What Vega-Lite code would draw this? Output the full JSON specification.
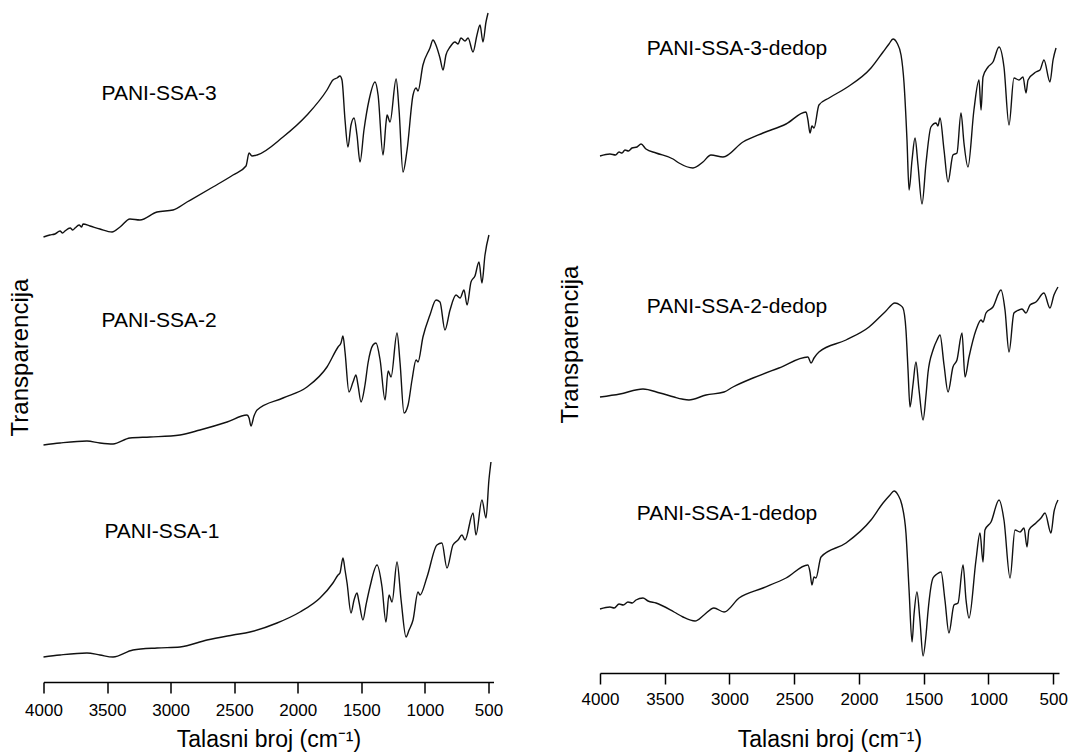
{
  "$schema": "https://vega.github.io/schema/vega-lite/v6.json",
  "background": "white",
  "padding": {"left": 8.5, "top": 0, "right": 5, "bottom": 5},
  "bounds": "flush",
  "spacing": 106.5,
  "config": {"view": {"stroke": null}, "font": "Liberation Sans"},
  "datasets": {
    "left": [
      {"sample":"PANI-SSA-3","wn":4000,"T":445},{"sample":"PANI-SSA-3","wn":3950,"T":447},{"sample":"PANI-SSA-3","wn":3910,"T":448},{"sample":"PANI-SSA-3","wn":3870,"T":451},{"sample":"PANI-SSA-3","wn":3850,"T":449},{"sample":"PANI-SSA-3","wn":3831,"T":451},{"sample":"PANI-SSA-3","wn":3790,"T":454},{"sample":"PANI-SSA-3","wn":3770,"T":452},{"sample":"PANI-SSA-3","wn":3752,"T":454},{"sample":"PANI-SSA-3","wn":3720,"T":457},{"sample":"PANI-SSA-3","wn":3700,"T":455},{"sample":"PANI-SSA-3","wn":3689,"T":458},{"sample":"PANI-SSA-3","wn":3634,"T":456},{"sample":"PANI-SSA-3","wn":3556,"T":453},{"sample":"PANI-SSA-3","wn":3461,"T":450},{"sample":"PANI-SSA-3","wn":3398,"T":455},{"sample":"PANI-SSA-3","wn":3320,"T":463},{"sample":"PANI-SSA-3","wn":3241,"T":462},{"sample":"PANI-SSA-3","wn":3107,"T":470},{"sample":"PANI-SSA-3","wn":2981,"T":472},{"sample":"PANI-SSA-3","wn":2871,"T":480},{"sample":"PANI-SSA-3","wn":2667,"T":495},{"sample":"PANI-SSA-3","wn":2509,"T":507},{"sample":"PANI-SSA-3","wn":2407,"T":516},{"sample":"PANI-SSA-3","wn":2383,"T":529},{"sample":"PANI-SSA-3","wn":2360,"T":526},{"sample":"PANI-SSA-3","wn":2320,"T":527},{"sample":"PANI-SSA-3","wn":2116,"T":545},{"sample":"PANI-SSA-3","wn":1927,"T":567},{"sample":"PANI-SSA-3","wn":1770,"T":592},{"sample":"PANI-SSA-3","wn":1723,"T":602},{"sample":"PANI-SSA-3","wn":1691,"T":604},{"sample":"PANI-SSA-3","wn":1668,"T":606},{"sample":"PANI-SSA-3","wn":1652,"T":602},{"sample":"PANI-SSA-3","wn":1628,"T":562},{"sample":"PANI-SSA-3","wn":1605,"T":535},{"sample":"PANI-SSA-3","wn":1581,"T":557},{"sample":"PANI-SSA-3","wn":1557,"T":564},{"sample":"PANI-SSA-3","wn":1534,"T":547},{"sample":"PANI-SSA-3","wn":1510,"T":520},{"sample":"PANI-SSA-3","wn":1479,"T":552},{"sample":"PANI-SSA-3","wn":1439,"T":582},{"sample":"PANI-SSA-3","wn":1392,"T":600},{"sample":"PANI-SSA-3","wn":1368,"T":587},{"sample":"PANI-SSA-3","wn":1329,"T":527},{"sample":"PANI-SSA-3","wn":1305,"T":560},{"sample":"PANI-SSA-3","wn":1297,"T":567},{"sample":"PANI-SSA-3","wn":1274,"T":560},{"sample":"PANI-SSA-3","wn":1226,"T":603},{"sample":"PANI-SSA-3","wn":1203,"T":572},{"sample":"PANI-SSA-3","wn":1172,"T":510},{"sample":"PANI-SSA-3","wn":1140,"T":532},{"sample":"PANI-SSA-3","wn":1093,"T":587},{"sample":"PANI-SSA-3","wn":1069,"T":594},{"sample":"PANI-SSA-3","wn":1054,"T":591},{"sample":"PANI-SSA-3","wn":1015,"T":617},{"sample":"PANI-SSA-3","wn":960,"T":634},{"sample":"PANI-SSA-3","wn":936,"T":642},{"sample":"PANI-SSA-3","wn":913,"T":637},{"sample":"PANI-SSA-3","wn":881,"T":624},{"sample":"PANI-SSA-3","wn":857,"T":612},{"sample":"PANI-SSA-3","wn":834,"T":627},{"sample":"PANI-SSA-3","wn":802,"T":635},{"sample":"PANI-SSA-3","wn":763,"T":640},{"sample":"PANI-SSA-3","wn":739,"T":638},{"sample":"PANI-SSA-3","wn":716,"T":644},{"sample":"PANI-SSA-3","wn":684,"T":641},{"sample":"PANI-SSA-3","wn":660,"T":644},{"sample":"PANI-SSA-3","wn":621,"T":630},{"sample":"PANI-SSA-3","wn":590,"T":647},{"sample":"PANI-SSA-3","wn":566,"T":657},{"sample":"PANI-SSA-3","wn":543,"T":640},{"sample":"PANI-SSA-3","wn":519,"T":660},{"sample":"PANI-SSA-3","wn":503,"T":669},
      {"sample":"PANI-SSA-2","wn":4000,"T":237},{"sample":"PANI-SSA-2","wn":3870,"T":239},{"sample":"PANI-SSA-2","wn":3658,"T":241},{"sample":"PANI-SSA-2","wn":3556,"T":239},{"sample":"PANI-SSA-2","wn":3453,"T":238},{"sample":"PANI-SSA-2","wn":3320,"T":244},{"sample":"PANI-SSA-2","wn":3162,"T":245},{"sample":"PANI-SSA-2","wn":2926,"T":247},{"sample":"PANI-SSA-2","wn":2769,"T":252},{"sample":"PANI-SSA-2","wn":2556,"T":260},{"sample":"PANI-SSA-2","wn":2399,"T":267},{"sample":"PANI-SSA-2","wn":2383,"T":264},{"sample":"PANI-SSA-2","wn":2368,"T":256},{"sample":"PANI-SSA-2","wn":2344,"T":266},{"sample":"PANI-SSA-2","wn":2320,"T":272},{"sample":"PANI-SSA-2","wn":2116,"T":284},{"sample":"PANI-SSA-2","wn":1927,"T":295},{"sample":"PANI-SSA-2","wn":1770,"T":315},{"sample":"PANI-SSA-2","wn":1683,"T":335},{"sample":"PANI-SSA-2","wn":1660,"T":339},{"sample":"PANI-SSA-2","wn":1644,"T":346},{"sample":"PANI-SSA-2","wn":1628,"T":330},{"sample":"PANI-SSA-2","wn":1597,"T":290},{"sample":"PANI-SSA-2","wn":1565,"T":300},{"sample":"PANI-SSA-2","wn":1542,"T":307},{"sample":"PANI-SSA-2","wn":1526,"T":297},{"sample":"PANI-SSA-2","wn":1502,"T":280},{"sample":"PANI-SSA-2","wn":1471,"T":297},{"sample":"PANI-SSA-2","wn":1447,"T":319},{"sample":"PANI-SSA-2","wn":1408,"T":337},{"sample":"PANI-SSA-2","wn":1384,"T":339},{"sample":"PANI-SSA-2","wn":1352,"T":322},{"sample":"PANI-SSA-2","wn":1313,"T":282},{"sample":"PANI-SSA-2","wn":1289,"T":311},{"sample":"PANI-SSA-2","wn":1266,"T":305},{"sample":"PANI-SSA-2","wn":1219,"T":349},{"sample":"PANI-SSA-2","wn":1195,"T":319},{"sample":"PANI-SSA-2","wn":1164,"T":269},{"sample":"PANI-SSA-2","wn":1132,"T":277},{"sample":"PANI-SSA-2","wn":1101,"T":302},{"sample":"PANI-SSA-2","wn":1069,"T":322},{"sample":"PANI-SSA-2","wn":1054,"T":320},{"sample":"PANI-SSA-2","wn":1015,"T":345},{"sample":"PANI-SSA-2","wn":960,"T":367},{"sample":"PANI-SSA-2","wn":912,"T":382},{"sample":"PANI-SSA-2","wn":881,"T":380},{"sample":"PANI-SSA-2","wn":842,"T":352},{"sample":"PANI-SSA-2","wn":802,"T":372},{"sample":"PANI-SSA-2","wn":755,"T":387},{"sample":"PANI-SSA-2","wn":723,"T":384},{"sample":"PANI-SSA-2","wn":692,"T":392},{"sample":"PANI-SSA-2","wn":668,"T":377},{"sample":"PANI-SSA-2","wn":637,"T":400},{"sample":"PANI-SSA-2","wn":606,"T":406},{"sample":"PANI-SSA-2","wn":574,"T":420},{"sample":"PANI-SSA-2","wn":551,"T":399},{"sample":"PANI-SSA-2","wn":527,"T":427},{"sample":"PANI-SSA-2","wn":496,"T":447},
      {"sample":"PANI-SSA-1","wn":4000,"T":25},{"sample":"PANI-SSA-1","wn":3870,"T":27},{"sample":"PANI-SSA-1","wn":3658,"T":29},{"sample":"PANI-SSA-1","wn":3556,"T":27},{"sample":"PANI-SSA-1","wn":3453,"T":25},{"sample":"PANI-SSA-1","wn":3296,"T":32},{"sample":"PANI-SSA-1","wn":3107,"T":34},{"sample":"PANI-SSA-1","wn":2926,"T":35},{"sample":"PANI-SSA-1","wn":2714,"T":42},{"sample":"PANI-SSA-1","wn":2509,"T":47},{"sample":"PANI-SSA-1","wn":2376,"T":50},{"sample":"PANI-SSA-1","wn":2163,"T":59},{"sample":"PANI-SSA-1","wn":1982,"T":70},{"sample":"PANI-SSA-1","wn":1825,"T":84},{"sample":"PANI-SSA-1","wn":1723,"T":99},{"sample":"PANI-SSA-1","wn":1683,"T":107},{"sample":"PANI-SSA-1","wn":1668,"T":109},{"sample":"PANI-SSA-1","wn":1644,"T":124},{"sample":"PANI-SSA-1","wn":1628,"T":112},{"sample":"PANI-SSA-1","wn":1612,"T":99},{"sample":"PANI-SSA-1","wn":1581,"T":69},{"sample":"PANI-SSA-1","wn":1557,"T":82},{"sample":"PANI-SSA-1","wn":1534,"T":89},{"sample":"PANI-SSA-1","wn":1518,"T":80},{"sample":"PANI-SSA-1","wn":1487,"T":62},{"sample":"PANI-SSA-1","wn":1463,"T":77},{"sample":"PANI-SSA-1","wn":1432,"T":95},{"sample":"PANI-SSA-1","wn":1376,"T":117},{"sample":"PANI-SSA-1","wn":1337,"T":95},{"sample":"PANI-SSA-1","wn":1306,"T":60},{"sample":"PANI-SSA-1","wn":1282,"T":87},{"sample":"PANI-SSA-1","wn":1258,"T":80},{"sample":"PANI-SSA-1","wn":1219,"T":120},{"sample":"PANI-SSA-1","wn":1187,"T":82},{"sample":"PANI-SSA-1","wn":1148,"T":45},{"sample":"PANI-SSA-1","wn":1124,"T":52},{"sample":"PANI-SSA-1","wn":1093,"T":62},{"sample":"PANI-SSA-1","wn":1054,"T":90},{"sample":"PANI-SSA-1","wn":1038,"T":87},{"sample":"PANI-SSA-1","wn":983,"T":105},{"sample":"PANI-SSA-1","wn":905,"T":137},{"sample":"PANI-SSA-1","wn":866,"T":139},{"sample":"PANI-SSA-1","wn":826,"T":114},{"sample":"PANI-SSA-1","wn":779,"T":137},{"sample":"PANI-SSA-1","wn":739,"T":142},{"sample":"PANI-SSA-1","wn":708,"T":147},{"sample":"PANI-SSA-1","wn":684,"T":142},{"sample":"PANI-SSA-1","wn":621,"T":169},{"sample":"PANI-SSA-1","wn":598,"T":147},{"sample":"PANI-SSA-1","wn":551,"T":182},{"sample":"PANI-SSA-1","wn":519,"T":164},{"sample":"PANI-SSA-1","wn":496,"T":202},{"sample":"PANI-SSA-1","wn":480,"T":220}
    ],
    "right": [
      {"sample":"PANI-SSA-3-dedop","wn":4000,"T":517},{"sample":"PANI-SSA-3-dedop","wn":3923,"T":519},{"sample":"PANI-SSA-3-dedop","wn":3880,"T":518},{"sample":"PANI-SSA-3-dedop","wn":3853,"T":521},{"sample":"PANI-SSA-3-dedop","wn":3830,"T":520},{"sample":"PANI-SSA-3-dedop","wn":3807,"T":523},{"sample":"PANI-SSA-3-dedop","wn":3780,"T":522},{"sample":"PANI-SSA-3-dedop","wn":3753,"T":525},{"sample":"PANI-SSA-3-dedop","wn":3714,"T":526},{"sample":"PANI-SSA-3-dedop","wn":3683,"T":529},{"sample":"PANI-SSA-3-dedop","wn":3645,"T":524},{"sample":"PANI-SSA-3-dedop","wn":3567,"T":520},{"sample":"PANI-SSA-3-dedop","wn":3436,"T":514},{"sample":"PANI-SSA-3-dedop","wn":3390,"T":510},{"sample":"PANI-SSA-3-dedop","wn":3282,"T":505},{"sample":"PANI-SSA-3-dedop","wn":3205,"T":511},{"sample":"PANI-SSA-3-dedop","wn":3143,"T":518},{"sample":"PANI-SSA-3-dedop","wn":3050,"T":516},{"sample":"PANI-SSA-3-dedop","wn":2896,"T":531},{"sample":"PANI-SSA-3-dedop","wn":2741,"T":540},{"sample":"PANI-SSA-3-dedop","wn":2563,"T":549},{"sample":"PANI-SSA-3-dedop","wn":2409,"T":561},{"sample":"PANI-SSA-3-dedop","wn":2394,"T":553},{"sample":"PANI-SSA-3-dedop","wn":2378,"T":540},{"sample":"PANI-SSA-3-dedop","wn":2363,"T":547},{"sample":"PANI-SSA-3-dedop","wn":2347,"T":545},{"sample":"PANI-SSA-3-dedop","wn":2309,"T":568},{"sample":"PANI-SSA-3-dedop","wn":2231,"T":575},{"sample":"PANI-SSA-3-dedop","wn":2100,"T":585},{"sample":"PANI-SSA-3-dedop","wn":1907,"T":605},{"sample":"PANI-SSA-3-dedop","wn":1814,"T":621},{"sample":"PANI-SSA-3-dedop","wn":1768,"T":629},{"sample":"PANI-SSA-3-dedop","wn":1737,"T":634},{"sample":"PANI-SSA-3-dedop","wn":1706,"T":630},{"sample":"PANI-SSA-3-dedop","wn":1675,"T":618},{"sample":"PANI-SSA-3-dedop","wn":1652,"T":590},{"sample":"PANI-SSA-3-dedop","wn":1629,"T":533},{"sample":"PANI-SSA-3-dedop","wn":1613,"T":483},{"sample":"PANI-SSA-3-dedop","wn":1590,"T":513},{"sample":"PANI-SSA-3-dedop","wn":1567,"T":535},{"sample":"PANI-SSA-3-dedop","wn":1544,"T":508},{"sample":"PANI-SSA-3-dedop","wn":1513,"T":469},{"sample":"PANI-SSA-3-dedop","wn":1482,"T":510},{"sample":"PANI-SSA-3-dedop","wn":1444,"T":546},{"sample":"PANI-SSA-3-dedop","wn":1405,"T":550},{"sample":"PANI-SSA-3-dedop","wn":1390,"T":547},{"sample":"PANI-SSA-3-dedop","wn":1374,"T":555},{"sample":"PANI-SSA-3-dedop","wn":1343,"T":523},{"sample":"PANI-SSA-3-dedop","wn":1312,"T":491},{"sample":"PANI-SSA-3-dedop","wn":1274,"T":518},{"sample":"PANI-SSA-3-dedop","wn":1243,"T":520},{"sample":"PANI-SSA-3-dedop","wn":1212,"T":560},{"sample":"PANI-SSA-3-dedop","wn":1189,"T":530},{"sample":"PANI-SSA-3-dedop","wn":1158,"T":506},{"sample":"PANI-SSA-3-dedop","wn":1112,"T":563},{"sample":"PANI-SSA-3-dedop","wn":1073,"T":593},{"sample":"PANI-SSA-3-dedop","wn":1057,"T":563},{"sample":"PANI-SSA-3-dedop","wn":1042,"T":596},{"sample":"PANI-SSA-3-dedop","wn":1003,"T":606},{"sample":"PANI-SSA-3-dedop","wn":965,"T":611},{"sample":"PANI-SSA-3-dedop","wn":918,"T":626},{"sample":"PANI-SSA-3-dedop","wn":880,"T":606},{"sample":"PANI-SSA-3-dedop","wn":841,"T":548},{"sample":"PANI-SSA-3-dedop","wn":803,"T":595},{"sample":"PANI-SSA-3-dedop","wn":764,"T":593},{"sample":"PANI-SSA-3-dedop","wn":733,"T":596},{"sample":"PANI-SSA-3-dedop","wn":710,"T":580},{"sample":"PANI-SSA-3-dedop","wn":694,"T":593},{"sample":"PANI-SSA-3-dedop","wn":633,"T":601},{"sample":"PANI-SSA-3-dedop","wn":602,"T":603},{"sample":"PANI-SSA-3-dedop","wn":571,"T":613},{"sample":"PANI-SSA-3-dedop","wn":525,"T":591},{"sample":"PANI-SSA-3-dedop","wn":501,"T":613},{"sample":"PANI-SSA-3-dedop","wn":478,"T":625},
      {"sample":"PANI-SSA-2-dedop","wn":4000,"T":276},{"sample":"PANI-SSA-2-dedop","wn":3846,"T":279},{"sample":"PANI-SSA-2-dedop","wn":3668,"T":284},{"sample":"PANI-SSA-2-dedop","wn":3537,"T":280},{"sample":"PANI-SSA-2-dedop","wn":3428,"T":276},{"sample":"PANI-SSA-2-dedop","wn":3367,"T":274},{"sample":"PANI-SSA-2-dedop","wn":3313,"T":273},{"sample":"PANI-SSA-2-dedop","wn":3181,"T":278},{"sample":"PANI-SSA-2-dedop","wn":3042,"T":281},{"sample":"PANI-SSA-2-dedop","wn":2973,"T":286},{"sample":"PANI-SSA-2-dedop","wn":2818,"T":295},{"sample":"PANI-SSA-2-dedop","wn":2618,"T":305},{"sample":"PANI-SSA-2-dedop","wn":2394,"T":316},{"sample":"PANI-SSA-2-dedop","wn":2370,"T":310},{"sample":"PANI-SSA-2-dedop","wn":2347,"T":315},{"sample":"PANI-SSA-2-dedop","wn":2309,"T":321},{"sample":"PANI-SSA-2-dedop","wn":2100,"T":333},{"sample":"PANI-SSA-2-dedop","wn":1922,"T":346},{"sample":"PANI-SSA-2-dedop","wn":1799,"T":361},{"sample":"PANI-SSA-2-dedop","wn":1722,"T":370},{"sample":"PANI-SSA-2-dedop","wn":1683,"T":368},{"sample":"PANI-SSA-2-dedop","wn":1660,"T":365},{"sample":"PANI-SSA-2-dedop","wn":1637,"T":343},{"sample":"PANI-SSA-2-dedop","wn":1621,"T":303},{"sample":"PANI-SSA-2-dedop","wn":1606,"T":266},{"sample":"PANI-SSA-2-dedop","wn":1583,"T":288},{"sample":"PANI-SSA-2-dedop","wn":1560,"T":311},{"sample":"PANI-SSA-2-dedop","wn":1536,"T":283},{"sample":"PANI-SSA-2-dedop","wn":1505,"T":253},{"sample":"PANI-SSA-2-dedop","wn":1482,"T":278},{"sample":"PANI-SSA-2-dedop","wn":1467,"T":300},{"sample":"PANI-SSA-2-dedop","wn":1428,"T":323},{"sample":"PANI-SSA-2-dedop","wn":1397,"T":333},{"sample":"PANI-SSA-2-dedop","wn":1374,"T":338},{"sample":"PANI-SSA-2-dedop","wn":1343,"T":308},{"sample":"PANI-SSA-2-dedop","wn":1312,"T":281},{"sample":"PANI-SSA-2-dedop","wn":1274,"T":306},{"sample":"PANI-SSA-2-dedop","wn":1243,"T":313},{"sample":"PANI-SSA-2-dedop","wn":1204,"T":340},{"sample":"PANI-SSA-2-dedop","wn":1181,"T":296},{"sample":"PANI-SSA-2-dedop","wn":1150,"T":316},{"sample":"PANI-SSA-2-dedop","wn":1096,"T":343},{"sample":"PANI-SSA-2-dedop","wn":1057,"T":353},{"sample":"PANI-SSA-2-dedop","wn":1042,"T":351},{"sample":"PANI-SSA-2-dedop","wn":1019,"T":360},{"sample":"PANI-SSA-2-dedop","wn":965,"T":366},{"sample":"PANI-SSA-2-dedop","wn":903,"T":383},{"sample":"PANI-SSA-2-dedop","wn":872,"T":363},{"sample":"PANI-SSA-2-dedop","wn":841,"T":321},{"sample":"PANI-SSA-2-dedop","wn":803,"T":360},{"sample":"PANI-SSA-2-dedop","wn":764,"T":363},{"sample":"PANI-SSA-2-dedop","wn":741,"T":364},{"sample":"PANI-SSA-2-dedop","wn":710,"T":360},{"sample":"PANI-SSA-2-dedop","wn":679,"T":368},{"sample":"PANI-SSA-2-dedop","wn":633,"T":371},{"sample":"PANI-SSA-2-dedop","wn":571,"T":380},{"sample":"PANI-SSA-2-dedop","wn":525,"T":365},{"sample":"PANI-SSA-2-dedop","wn":494,"T":378},{"sample":"PANI-SSA-2-dedop","wn":463,"T":386},
      {"sample":"PANI-SSA-1-dedop","wn":4000,"T":64},{"sample":"PANI-SSA-1-dedop","wn":3923,"T":66},{"sample":"PANI-SSA-1-dedop","wn":3890,"T":65},{"sample":"PANI-SSA-1-dedop","wn":3853,"T":69},{"sample":"PANI-SSA-1-dedop","wn":3820,"T":68},{"sample":"PANI-SSA-1-dedop","wn":3784,"T":71},{"sample":"PANI-SSA-1-dedop","wn":3750,"T":70},{"sample":"PANI-SSA-1-dedop","wn":3722,"T":73},{"sample":"PANI-SSA-1-dedop","wn":3668,"T":75},{"sample":"PANI-SSA-1-dedop","wn":3629,"T":72},{"sample":"PANI-SSA-1-dedop","wn":3567,"T":70},{"sample":"PANI-SSA-1-dedop","wn":3428,"T":61},{"sample":"PANI-SSA-1-dedop","wn":3359,"T":56},{"sample":"PANI-SSA-1-dedop","wn":3266,"T":52},{"sample":"PANI-SSA-1-dedop","wn":3197,"T":58},{"sample":"PANI-SSA-1-dedop","wn":3120,"T":65},{"sample":"PANI-SSA-1-dedop","wn":3042,"T":61},{"sample":"PANI-SSA-1-dedop","wn":2926,"T":75},{"sample":"PANI-SSA-1-dedop","wn":2741,"T":85},{"sample":"PANI-SSA-1-dedop","wn":2563,"T":95},{"sample":"PANI-SSA-1-dedop","wn":2394,"T":108},{"sample":"PANI-SSA-1-dedop","wn":2378,"T":101},{"sample":"PANI-SSA-1-dedop","wn":2363,"T":88},{"sample":"PANI-SSA-1-dedop","wn":2347,"T":96},{"sample":"PANI-SSA-1-dedop","wn":2332,"T":95},{"sample":"PANI-SSA-1-dedop","wn":2293,"T":116},{"sample":"PANI-SSA-1-dedop","wn":2100,"T":130},{"sample":"PANI-SSA-1-dedop","wn":1907,"T":153},{"sample":"PANI-SSA-1-dedop","wn":1814,"T":170},{"sample":"PANI-SSA-1-dedop","wn":1760,"T":178},{"sample":"PANI-SSA-1-dedop","wn":1729,"T":182},{"sample":"PANI-SSA-1-dedop","wn":1698,"T":178},{"sample":"PANI-SSA-1-dedop","wn":1668,"T":168},{"sample":"PANI-SSA-1-dedop","wn":1637,"T":140},{"sample":"PANI-SSA-1-dedop","wn":1613,"T":83},{"sample":"PANI-SSA-1-dedop","wn":1590,"T":31},{"sample":"PANI-SSA-1-dedop","wn":1575,"T":58},{"sample":"PANI-SSA-1-dedop","wn":1552,"T":81},{"sample":"PANI-SSA-1-dedop","wn":1529,"T":53},{"sample":"PANI-SSA-1-dedop","wn":1505,"T":17},{"sample":"PANI-SSA-1-dedop","wn":1482,"T":38},{"sample":"PANI-SSA-1-dedop","wn":1467,"T":61},{"sample":"PANI-SSA-1-dedop","wn":1428,"T":95},{"sample":"PANI-SSA-1-dedop","wn":1397,"T":99},{"sample":"PANI-SSA-1-dedop","wn":1366,"T":101},{"sample":"PANI-SSA-1-dedop","wn":1336,"T":73},{"sample":"PANI-SSA-1-dedop","wn":1305,"T":40},{"sample":"PANI-SSA-1-dedop","wn":1266,"T":68},{"sample":"PANI-SSA-1-dedop","wn":1235,"T":70},{"sample":"PANI-SSA-1-dedop","wn":1196,"T":108},{"sample":"PANI-SSA-1-dedop","wn":1173,"T":73},{"sample":"PANI-SSA-1-dedop","wn":1150,"T":55},{"sample":"PANI-SSA-1-dedop","wn":1096,"T":113},{"sample":"PANI-SSA-1-dedop","wn":1065,"T":140},{"sample":"PANI-SSA-1-dedop","wn":1042,"T":111},{"sample":"PANI-SSA-1-dedop","wn":1027,"T":143},{"sample":"PANI-SSA-1-dedop","wn":980,"T":151},{"sample":"PANI-SSA-1-dedop","wn":918,"T":173},{"sample":"PANI-SSA-1-dedop","wn":880,"T":153},{"sample":"PANI-SSA-1-dedop","wn":833,"T":95},{"sample":"PANI-SSA-1-dedop","wn":795,"T":143},{"sample":"PANI-SSA-1-dedop","wn":756,"T":141},{"sample":"PANI-SSA-1-dedop","wn":725,"T":145},{"sample":"PANI-SSA-1-dedop","wn":702,"T":126},{"sample":"PANI-SSA-1-dedop","wn":687,"T":143},{"sample":"PANI-SSA-1-dedop","wn":633,"T":150},{"sample":"PANI-SSA-1-dedop","wn":594,"T":155},{"sample":"PANI-SSA-1-dedop","wn":563,"T":160},{"sample":"PANI-SSA-1-dedop","wn":517,"T":140},{"sample":"PANI-SSA-1-dedop","wn":494,"T":161},{"sample":"PANI-SSA-1-dedop","wn":463,"T":173}
    ],
    "leftLabels": [
      {"label":"PANI-SSA-3","wn":3091,"T":582},
      {"label":"PANI-SSA-2","wn":3091,"T":355},
      {"label":"PANI-SSA-1","wn":3068,"T":144}
    ],
    "rightLabels": [
      {"label":"PANI-SSA-3-dedop","wn":2942,"T":618},
      {"label":"PANI-SSA-2-dedop","wn":2942,"T":360},
      {"label":"PANI-SSA-1-dedop","wn":3019,"T":153}
    ]
  },
  "hconcat": [
    {
      "width": 450,
      "height": 682,
      "layer": [
        {
          "data": {"name": "left"},
          "mark": {"type": "line", "color": "#111111", "strokeWidth": 1.4, "interpolate": "monotone"},
          "encoding": {
            "x": {
              "field": "wn", "type": "quantitative",
              "scale": {"domain": [460, 4000], "reverse": true, "nice": false, "zero": false},
              "axis": {
                "values": [4000,3750,3500,3250,3000,2750,2500,2250,2000,1750,1500,1250,1000,750,500],
                "format": "d",
                "labelExpr": "datum.value % 500 === 0 ? datum.label : ''",
                "tickSize": {"condition": {"test": "datum.value % 500 !== 0", "value": 6}, "value": 11},
                "tickWidth": 1.5, "tickColor": "black",
                "domainColor": "black", "domainWidth": 1.6,
                "labelFontSize": 17, "labelColor": "black", "labelPadding": 9, "labelFlush": false, "labelOverlap": false,
                "title": "Talasni broj (cm⁻¹)", "titleFontSize": 23, "titleFontWeight": "normal", "titleColor": "black",
                "titleBaseline": "alphabetic", "titleY": 64,
                "grid": false
              }
            },
            "y": {
              "field": "T", "type": "quantitative",
              "scale": {"domain": [0, 682], "nice": false, "zero": false},
              "axis": {
                "title": "Transparencija", "domain": false, "ticks": false, "labels": false, "grid": false,
                "titleFontSize": 24, "titleFontWeight": "normal", "titleColor": "black",
                "titlePadding": 11, "titleY": 357
              }
            },
            "detail": {"field": "sample", "type": "nominal"},
            "order": {"field": "wn", "sort": "descending"}
          }
        },
        {
          "data": {"name": "leftLabels"},
          "mark": {"type": "text", "fontSize": 21, "color": "black", "align": "center", "baseline": "alphabetic"},
          "encoding": {
            "x": {"field": "wn", "type": "quantitative"},
            "y": {"field": "T", "type": "quantitative"},
            "text": {"field": "label", "type": "nominal"}
          }
        }
      ]
    },
    {
      "width": 459,
      "height": 673,
      "layer": [
        {
          "data": {"name": "right"},
          "mark": {"type": "line", "color": "#111111", "strokeWidth": 1.4, "interpolate": "monotone"},
          "encoding": {
            "x": {
              "field": "wn", "type": "quantitative",
              "scale": {"domain": [455, 4000], "reverse": true, "nice": false, "zero": false},
              "axis": {
                "values": [4000,3750,3500,3250,3000,2750,2500,2250,2000,1750,1500,1250,1000,750,500],
                "format": "d",
                "labelExpr": "datum.value % 500 === 0 ? datum.label : ''",
                "tickSize": {"condition": {"test": "datum.value % 500 !== 0", "value": 6}, "value": 11},
                "tickWidth": 1.5, "tickColor": "black",
                "domainColor": "black", "domainWidth": 1.6,
                "labelFontSize": 17, "labelColor": "black", "labelPadding": 7, "labelFlush": false, "labelOverlap": false,
                "title": "Talasni broj (cm⁻¹)", "titleFontSize": 23, "titleFontWeight": "normal", "titleColor": "black",
                "titleBaseline": "alphabetic", "titleY": 73,
                "grid": false
              }
            },
            "y": {
              "field": "T", "type": "quantitative",
              "scale": {"domain": [0, 673], "nice": false, "zero": false},
              "axis": {
                "title": "Transparencija", "domain": false, "ticks": false, "labels": false, "grid": false,
                "titleFontSize": 24, "titleFontWeight": "normal", "titleColor": "black",
                "titlePadding": 18, "titleY": 344
              }
            },
            "detail": {"field": "sample", "type": "nominal"},
            "order": {"field": "wn", "sort": "descending"}
          }
        },
        {
          "data": {"name": "rightLabels"},
          "mark": {"type": "text", "fontSize": 21, "color": "black", "align": "center", "baseline": "alphabetic"},
          "encoding": {
            "x": {"field": "wn", "type": "quantitative"},
            "y": {"field": "T", "type": "quantitative"},
            "text": {"field": "label", "type": "nominal"}
          }
        }
      ]
    }
  ]
}
